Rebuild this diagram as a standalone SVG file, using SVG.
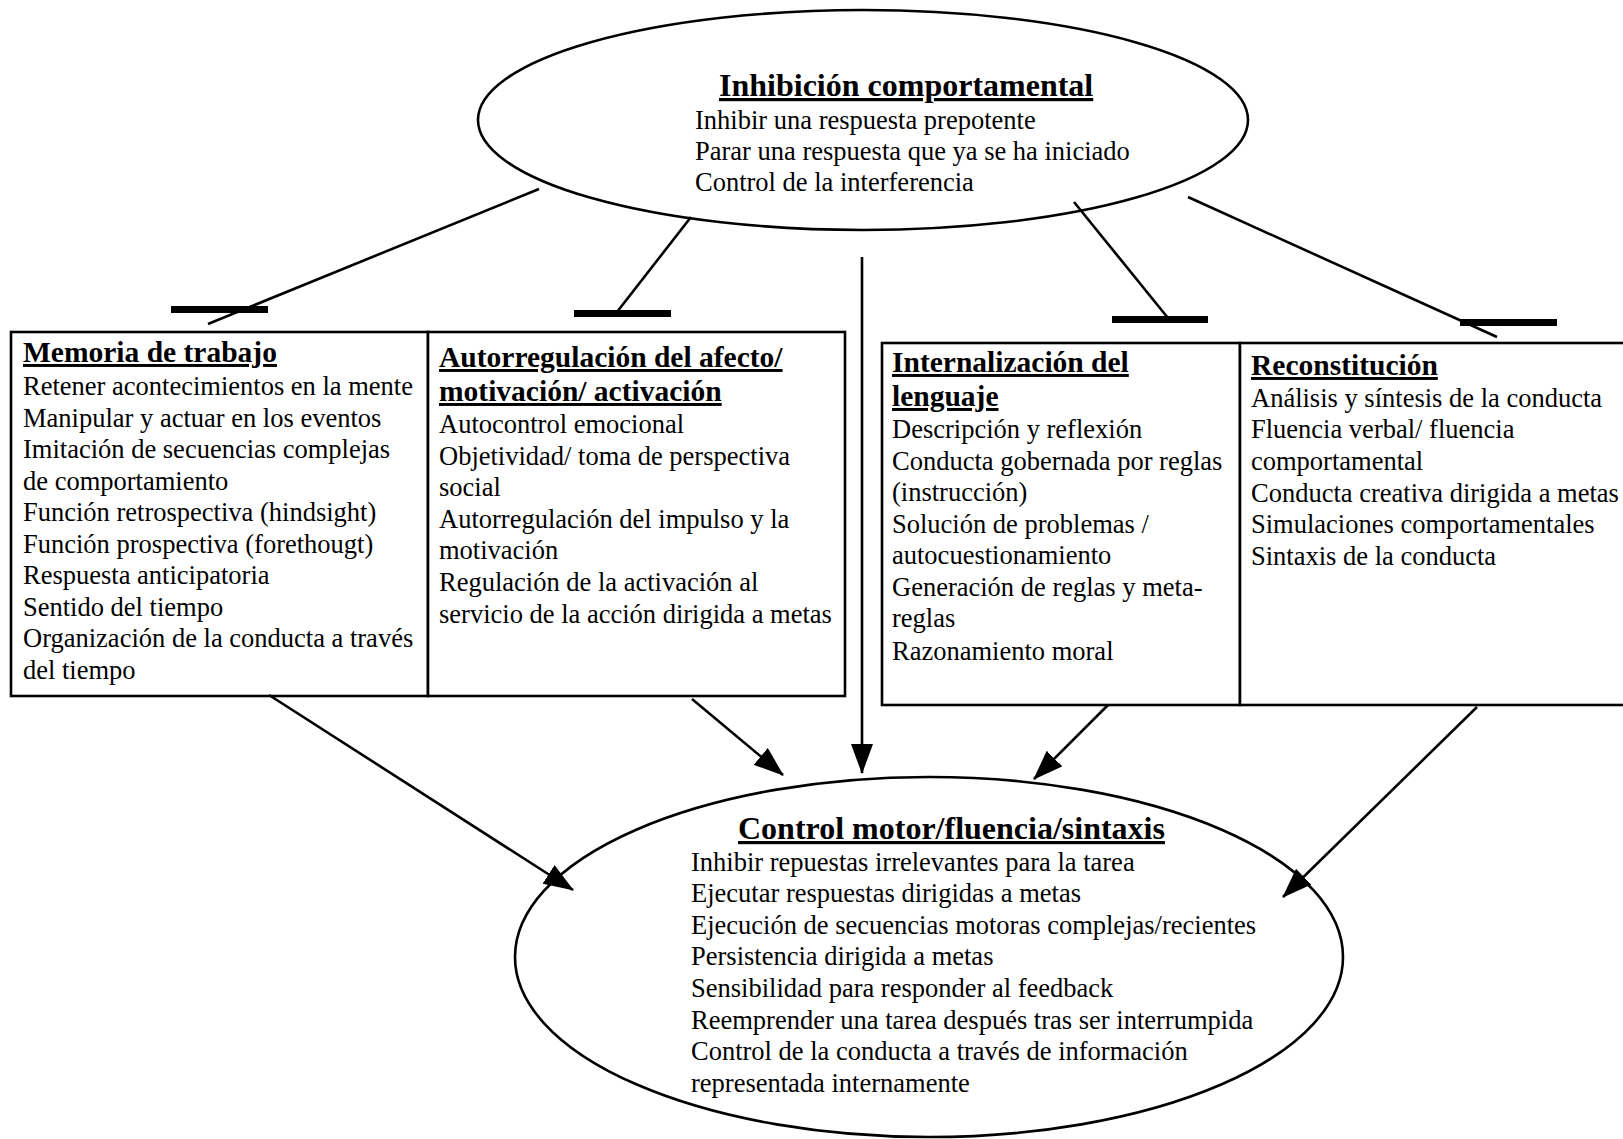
<svg xmlns="http://www.w3.org/2000/svg" width="1623" height="1139" viewBox="0 0 1623 1139">
<style>
.t{font-family:"Liberation Serif","Times New Roman",serif;font-size:26.5px;fill:#000}
.h{font-weight:bold;font-size:29.5px;text-decoration:underline}
.H{font-weight:bold;font-size:32px;text-decoration:underline}
.shape{fill:#fff;stroke:#000;stroke-width:2.6}
.c{stroke:#000;stroke-width:2.6;fill:none}
.bar{fill:#000}
</style>
<defs>
<marker id="ah" markerUnits="userSpaceOnUse" markerWidth="30" markerHeight="22" viewBox="0 0 30 22" refX="29" refY="11" orient="auto"><path d="M0,0 L30,11 L0,22 z" fill="#000"/></marker>
</defs>
<rect width="1623" height="1139" fill="#fff"/>

<g id="inhibicion">
<ellipse class="shape" cx="863" cy="120" rx="385" ry="110"/>
<text class="t H" x="719" y="96">Inhibición comportamental</text>
<text class="t" x="695" y="129">Inhibir una respuesta prepotente</text>
<text class="t" x="695" y="160">Parar una respuesta que ya se ha iniciado</text>
<text class="t" x="695" y="191">Control de la interferencia</text>
</g>

<g id="memoria">
<rect class="shape" x="11" y="332" width="417" height="364"/>
<text class="t h" x="23" y="362">Memoria de trabajo</text>
<text class="t" x="23" y="395">Retener acontecimientos en la mente</text>
<text class="t" x="23" y="427">Manipular y actuar en los eventos</text>
<text class="t" x="23" y="458">Imitación de secuencias complejas</text>
<text class="t" x="23" y="490">de comportamiento</text>
<text class="t" x="23" y="521">Función retrospectiva (hindsight)</text>
<text class="t" x="23" y="553">Función prospectiva (forethougt)</text>
<text class="t" x="23" y="584">Respuesta anticipatoria</text>
<text class="t" x="23" y="616">Sentido del tiempo</text>
<text class="t" x="23" y="647">Organización de la conducta a través</text>
<text class="t" x="23" y="679">del tiempo</text>
</g>

<g id="autorregulacion">
<rect class="shape" x="428" y="332" width="417" height="364"/>
<text class="t h" x="439" y="367">Autorregulación del afecto/</text>
<text class="t h" x="439" y="401">motivación/ activación</text>
<text class="t" x="439" y="433">Autocontrol emocional</text>
<text class="t" x="439" y="465">Objetividad/ toma de perspectiva</text>
<text class="t" x="439" y="496">social</text>
<text class="t" x="439" y="528">Autorregulación del impulso y la</text>
<text class="t" x="439" y="559">motivación</text>
<text class="t" x="439" y="591">Regulación de la activación al</text>
<text class="t" x="439" y="623">servicio de la acción dirigida a metas</text>
</g>

<g id="internalizacion">
<rect class="shape" x="882" y="343" width="358" height="362"/>
<text class="t h" x="892" y="372">Internalización del</text>
<text class="t h" x="892" y="406">lenguaje</text>
<text class="t" x="892" y="438">Descripción y reflexión</text>
<text class="t" x="892" y="470">Conducta gobernada por reglas</text>
<text class="t" x="892" y="501">(instrucción)</text>
<text class="t" x="892" y="533">Solución de problemas /</text>
<text class="t" x="892" y="564">autocuestionamiento</text>
<text class="t" x="892" y="596">Generación de reglas y meta-</text>
<text class="t" x="892" y="627">reglas</text>
<text class="t" x="892" y="660">Razonamiento moral</text>
</g>

<g id="reconstitucion">
<rect class="shape" x="1240" y="343" width="400" height="362"/>
<text class="t h" x="1251" y="375">Reconstitución</text>
<text class="t" x="1251" y="407">Análisis y síntesis de la conducta</text>
<text class="t" x="1251" y="438">Fluencia verbal/ fluencia</text>
<text class="t" x="1251" y="470">comportamental</text>
<text class="t" x="1251" y="502">Conducta creativa dirigida a metas</text>
<text class="t" x="1251" y="533">Simulaciones comportamentales</text>
<text class="t" x="1251" y="565">Sintaxis de la conducta</text>
</g>

<g id="control-motor">
<ellipse class="shape" cx="929" cy="957" rx="414" ry="180"/>
<text class="t H" x="738" y="839">Control motor/fluencia/sintaxis</text>
<text class="t" x="691" y="871">Inhibir repuestas irrelevantes para la tarea</text>
<text class="t" x="691" y="902">Ejecutar respuestas dirigidas a metas</text>
<text class="t" x="691" y="934">Ejecución de secuencias motoras complejas/recientes</text>
<text class="t" x="691" y="965">Persistencia dirigida a metas</text>
<text class="t" x="691" y="997">Sensibilidad para responder al feedback</text>
<text class="t" x="691" y="1029">Reemprender una tarea después tras ser interrumpida</text>
<text class="t" x="691" y="1060">Control de la conducta a través de información</text>
<text class="t" x="691" y="1092">representada internamente</text>
</g>

<g id="connectors">
<line class="c" x1="539" y1="189" x2="208" y2="324"/>
<rect class="bar" x="171" y="306" width="97" height="7"/>
<line class="c" x1="691" y1="217" x2="617" y2="312"/>
<rect class="bar" x="574" y="310" width="97" height="7"/>
<line class="c" x1="1074" y1="202" x2="1168" y2="318"/>
<rect class="bar" x="1112" y="316" width="96" height="7"/>
<line class="c" x1="1188" y1="197" x2="1497" y2="337"/>
<rect class="bar" x="1460" y="319" width="97" height="7"/>
<line class="c" x1="862" y1="257" x2="862" y2="773" marker-end="url(#ah)"/>
<line class="c" x1="269" y1="695" x2="573" y2="890" marker-end="url(#ah)"/>
<line class="c" x1="692" y1="699" x2="783" y2="775" marker-end="url(#ah)"/>
<line class="c" x1="1108" y1="705" x2="1034" y2="779" marker-end="url(#ah)"/>
<line class="c" x1="1477" y1="707" x2="1283" y2="897" marker-end="url(#ah)"/>
</g>
</svg>
